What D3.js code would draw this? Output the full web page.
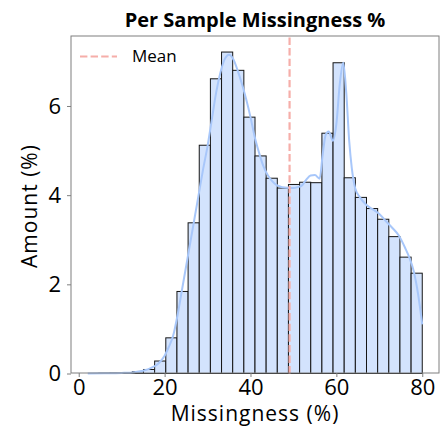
<!DOCTYPE html>
<html>
<head>
<meta charset="utf-8">
<script src="https://cdn.jsdelivr.net/npm/d3@7"></script>
<style>
  body { margin: 0; background: #fff; }
  text { font-family: "Open Sans", Roboto, sans-serif; fill: #000; }
</style>
</head>
<body>
<div id="chart"></div>
<script>
// histogram: 30 bins from 2.1 to 80, heights in % of samples
var binStart = 2.1, binEnd = 80, binCount = 30;
var binHeights = [0, 0.005, 0.01, 0.02, 0.04, 0.09, 0.28, 0.80, 1.84, 3.38,
                  5.12, 6.61, 7.21, 6.80, 5.75, 4.88, 4.38, 4.16, 4.24, 4.29,
                  4.28, 5.39, 6.97, 4.39, 3.95, 3.70, 3.46, 3.07, 2.61, 2.25];
// kde curve [x, y]
var kdeX = [2.1, 6, 10, 13, 15, 17, 18.5, 20, 21, 22, 23, 24, 25, 26, 27, 28, 29, 30, 31, 32,
            33, 34, 35, 36, 37, 38, 39, 40, 41, 42, 43, 44, 45, 46, 47, 48, 49, 50, 51, 52,
            53, 54, 55, 56.1, 56.8, 57.5, 58.2, 59.2, 60, 60.8, 61.6, 62.3, 63, 63.6, 64.4, 65.5,
            67, 68.5, 70, 71.5, 73, 74.5, 76, 77, 78, 79, 80];
var kdeY = [0, 0.003, 0.012, 0.03, 0.06, 0.13, 0.22, 0.4, 0.6, 0.85, 1.3, 1.85, 2.4, 2.95, 3.5, 4.05, 4.6, 5.1, 5.7, 6.3,
            6.75, 7.05, 7.15, 7.05, 6.8, 6.5, 6.15, 5.75, 5.3, 4.95, 4.65, 4.45, 4.32, 4.23, 4.19, 4.17, 4.16, 4.16, 4.18, 4.22,
            4.35, 4.44, 4.45, 4.37, 4.9, 5.35, 5.43, 5.22, 5.6, 6.5, 6.97, 6.3, 5.2, 4.6, 4.15, 3.95,
            3.78, 3.68, 3.58, 3.42, 3.27, 3.1, 2.82, 2.6, 2.3, 1.8, 1.1];
var meanValue = 49.1;
var xTicks = [0, 20, 40, 60, 80];
var yTicks = [0, 2, 4, 6];

var W = 442, H = 433;
var margin = { top: 36, right: 3, bottom: 60, left: 71 };
var svg = d3.select("#chart").append("svg").attr("width", W).attr("height", H);

var x = d3.scaleLinear().domain([-1.8, 83.9]).range([margin.left, W - margin.right]);
var y = d3.scaleLinear().domain([0, 7.57]).range([H - margin.bottom + 0.5, margin.top]);

var binW = (binEnd - binStart) / binCount;
var bins = binHeights.map(function(h, i) { return { x0: binStart + i * binW, x1: binStart + (i + 1) * binW, h: h }; });

// bars
svg.append("g").selectAll("rect").data(bins).enter().append("rect")
    .attr("x", function(d) { return x(d.x0); })
    .attr("y", function(d) { return y(d.h); })
    .attr("width", function(d) { return x(d.x1) - x(d.x0); })
    .attr("height", function(d) { return y(0) - y(d.h); })
    .attr("fill", "#d3e3fd")
    .attr("stroke", "#151515")
    .attr("stroke-width", 1);

// kde
var kde = kdeX.map(function(v, i) { return [v, kdeY[i]]; });
svg.append("path").datum(kde)
    .attr("fill", "none")
    .attr("stroke", "#a8c7fa")
    .attr("stroke-width", 2)
    .attr("d", d3.line().curve(d3.curveMonotoneX).x(function(d) { return x(d[0]); }).y(function(d) { return y(d[1]); }));

// mean line
svg.append("line")
    .attr("x1", x(meanValue)).attr("x2", x(meanValue))
    .attr("y1", y.range()[0]).attr("y2", margin.top)
    .attr("stroke", "#f6aea9")
    .attr("stroke-width", 2.2)
    .attr("stroke-dasharray", "7.4,3.2");

// axes
var xAxis = svg.append("g").attr("transform", "translate(0," + (H - margin.bottom) + ")")
    .call(d3.axisBottom(x).tickValues(xTicks).tickSize(4).tickPadding(2));
var yAxis = svg.append("g").attr("transform", "translate(" + margin.left + ",0)")
    .call(d3.axisLeft(y).tickValues(yTicks).tickSize(4).tickPadding(6));
[xAxis, yAxis].forEach(function(a) {
  a.select(".domain").remove();
  a.selectAll(".tick line").attr("stroke", "#7f7f7f");
  a.selectAll(".tick text").attr("font-size", 22).attr("fill", "#000").style("font-family", "Open Sans");
});

// frame
svg.append("rect")
    .attr("x", margin.left).attr("y", margin.top)
    .attr("width", W - margin.right - margin.left)
    .attr("height", H - margin.bottom - margin.top)
    .attr("fill", "none").attr("stroke", "#7f7f7f").attr("stroke-width", 1);

// labels
svg.append("text").attr("x", 255).attr("y", 27).attr("text-anchor", "middle")
    .attr("font-size", 20).attr("font-weight", "bold").text("Per Sample Missingness %");
svg.append("text").attr("x", 255).attr("y", 421).attr("text-anchor", "middle")
    .attr("font-size", 21).attr("letter-spacing", 1).text("Missingness (%)");
svg.append("text").attr("transform", "translate(37,206) rotate(-90)").attr("text-anchor", "middle")
    .attr("font-size", 21).attr("letter-spacing", 1).text("Amount (%)");

// legend
svg.append("line").attr("x1", 80).attr("x2", 117).attr("y1", 56.5).attr("y2", 56.5)
    .attr("stroke", "#f6aea9").attr("stroke-width", 2.2).attr("stroke-dasharray", "7.4,3.2");
svg.append("text").attr("x", 132).attr("y", 62).attr("font-size", 17).text("Mean");
</script>
</body>
</html>
